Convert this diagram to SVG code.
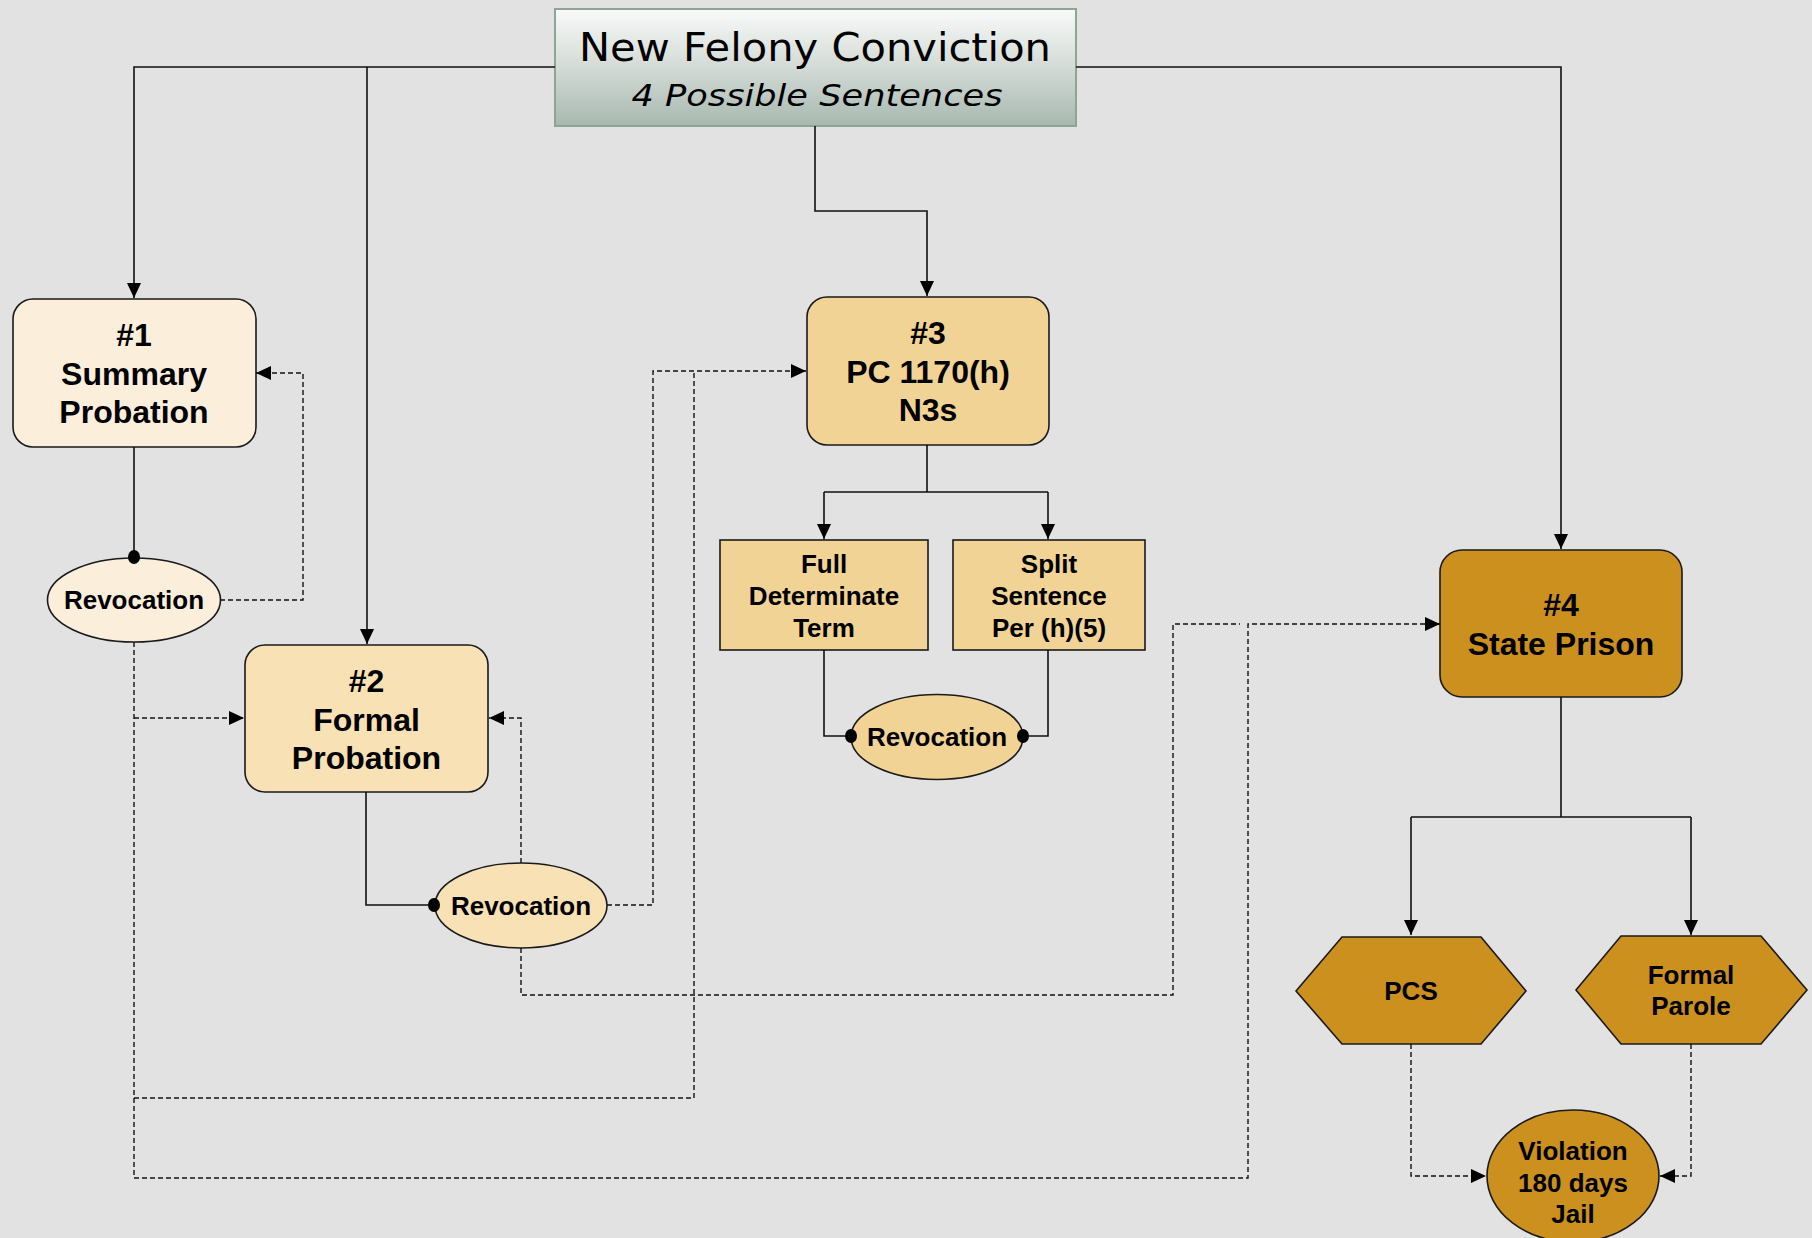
<svg xmlns="http://www.w3.org/2000/svg" width="1812" height="1238" viewBox="0 0 1812 1238">
<style>
  .node { stroke: #1a1a1a; stroke-width: 1.6; }
  .c1 { fill: #fbefdc; }
  .c2 { fill: #f8e1b4; }
  .c3 { fill: #f1d495; }
  .c4 { fill: #cb901d; }
  .lbl { font-family: "Liberation Sans", Arial, sans-serif; font-weight: bold; fill: #000; text-anchor: middle; }
  .big { font-size: 32px; }
  .small { font-size: 26px; }
  .solid { fill: none; stroke: #111; stroke-width: 1.6; }
  .dash { fill: none; stroke: #111; stroke-width: 1.4; stroke-dasharray: 5 3; }
  .arr { marker-end: url(#arrow); }
  .dot { fill: #000; }
</style>
<defs>
  <linearGradient id="titleGrad" x1="0" y1="0" x2="0" y2="1">
    <stop offset="0" stop-color="#f9faf9"/>
    <stop offset="0.5" stop-color="#d3dbd6"/>
    <stop offset="1" stop-color="#a7b8af"/>
  </linearGradient>
  <marker id="arrow" markerUnits="userSpaceOnUse" markerWidth="15" markerHeight="14" refX="15" refY="7" orient="auto">
    <path d="M0,0 L15,7 L0,14 z" fill="#000"/>
  </marker>
</defs>
<rect x="0" y="0" width="1812" height="1238" fill="#e2e2e2"/>

<g id="title">
  <rect x="555" y="9" width="521" height="117" fill="url(#titleGrad)" stroke="#8ca596" stroke-width="2"/>
  <text x="815" y="61" font-family="'DejaVu Sans', Verdana, sans-serif" font-size="39" text-anchor="middle" textLength="472" lengthAdjust="spacingAndGlyphs" fill="#000">New Felony Conviction</text>
  <text x="817" y="106" font-family="'DejaVu Sans', Verdana, sans-serif" font-size="31" font-style="italic" text-anchor="middle" textLength="371" lengthAdjust="spacingAndGlyphs" fill="#000">4 Possible Sentences</text>
</g>

<g id="n1">
  <rect class="node c1" x="13" y="299" width="243" height="148" rx="20" ry="20"/>
  <text class="lbl big" x="134" y="346">#1</text>
  <text class="lbl big" x="134" y="384.5">Summary</text>
  <text class="lbl big" x="134" y="423">Probation</text>
</g>

<g id="rev1">
  <ellipse class="node c1" cx="134" cy="600" rx="86.5" ry="42"/>
  <text class="lbl small" x="134" y="609">Revocation</text>
</g>

<g id="n2">
  <rect class="node c2" x="245" y="645" width="243" height="147" rx="20" ry="20"/>
  <text class="lbl big" x="366.5" y="692">#2</text>
  <text class="lbl big" x="366.5" y="730.5">Formal</text>
  <text class="lbl big" x="366.5" y="769">Probation</text>
</g>

<g id="rev2">
  <ellipse class="node c2" cx="521" cy="905.5" rx="86" ry="42.5"/>
  <text class="lbl small" x="521" y="914.5">Revocation</text>
</g>

<g id="n3">
  <rect class="node c3" x="807" y="297" width="242" height="148" rx="20" ry="20"/>
  <text class="lbl big" x="928" y="344">#3</text>
  <text class="lbl big" x="928" y="382.5">PC 1170(h)</text>
  <text class="lbl big" x="928" y="421">N3s</text>
</g>

<g id="full">
  <rect class="node c3" x="720" y="540" width="208" height="110"/>
  <text class="lbl small" x="824" y="573">Full</text>
  <text class="lbl small" x="824" y="605">Determinate</text>
  <text class="lbl small" x="824" y="637">Term</text>
</g>

<g id="split">
  <rect class="node c3" x="953" y="540" width="192" height="110"/>
  <text class="lbl small" x="1049" y="573">Split</text>
  <text class="lbl small" x="1049" y="605">Sentence</text>
  <text class="lbl small" x="1049" y="637">Per (h)(5)</text>
</g>

<g id="rev3">
  <ellipse class="node c3" cx="937" cy="737" rx="86" ry="42.5"/>
  <text class="lbl small" x="937" y="746">Revocation</text>
</g>

<g id="n4">
  <rect class="node c4" x="1440" y="550" width="242" height="147" rx="22" ry="22"/>
  <text class="lbl big" x="1561" y="615.5">#4</text>
  <text class="lbl big" x="1561" y="655">State Prison</text>
</g>

<g id="pcs">
  <polygon class="node c4" points="1296,991 1342,937 1481,937 1526,991 1481,1044 1342,1044"/>
  <text class="lbl small" x="1411" y="1000">PCS</text>
</g>

<g id="parole">
  <polygon class="node c4" points="1576,990 1621,936 1761,936 1807,990 1761,1044 1621,1044"/>
  <text class="lbl small" x="1691" y="984">Formal</text>
  <text class="lbl small" x="1691" y="1015">Parole</text>
</g>

<g id="violation">
  <ellipse class="node c4" cx="1573" cy="1176" rx="86" ry="66"/>
  <text class="lbl small" x="1573" y="1160">Violation</text>
  <text class="lbl small" x="1573" y="1192">180 days</text>
  <text class="lbl small" x="1573" y="1223">Jail</text>
</g>

<g id="connectors">
  <path class="solid arr" d="M555,67 H134 V298"/>
  <path class="solid arr" d="M367,67 V644"/>
  <path class="solid arr" d="M1076,67 H1561 V549"/>
  <path class="solid arr" d="M815,126 V211 H927 V296"/>
  <path class="solid" d="M134,447 V557"/>
  <path class="solid" d="M366,792 V905 H434"/>
  <path class="solid" d="M927,445 V492 M824,492 H1048"/>
  <path class="solid arr" d="M824,492 V539"/>
  <path class="solid arr" d="M1048,492 V539"/>
  <path class="solid" d="M824,650 V736 H851"/>
  <path class="solid" d="M1048,650 V736 H1023"/>
  <path class="solid" d="M1561,697 V817 M1411,817 H1691"/>
  <path class="solid arr" d="M1411,817 V935"/>
  <path class="solid arr" d="M1691,817 V935"/>
  <ellipse class="dot" cx="134" cy="557" rx="6" ry="7"/>
  <ellipse class="dot" cx="434" cy="905" rx="6" ry="7"/>
  <ellipse class="dot" cx="851" cy="736" rx="6" ry="7"/>
  <ellipse class="dot" cx="1023" cy="736" rx="6" ry="7"/>

  <path class="dash arr" d="M220,600 H303 V373 H256"/>
  <path class="dash arr" d="M134,642 V1178 H1248 V624 H1440"/>
  <path class="dash arr" d="M134,718 H244"/>
  <path class="dash" d="M134,1098 H694 V371"/>
  <path class="dash arr" d="M607,905 H653 V371 H806"/>
  <path class="dash arr" d="M521,863 V718 H489"/>
  <path class="dash" d="M521,948 V995 H1173 V624 H1240"/>
  <path class="dash arr" d="M1411,1044 V1176 H1486"/>
  <path class="dash arr" d="M1691,1044 V1176 H1660"/>
</g>
</svg>
